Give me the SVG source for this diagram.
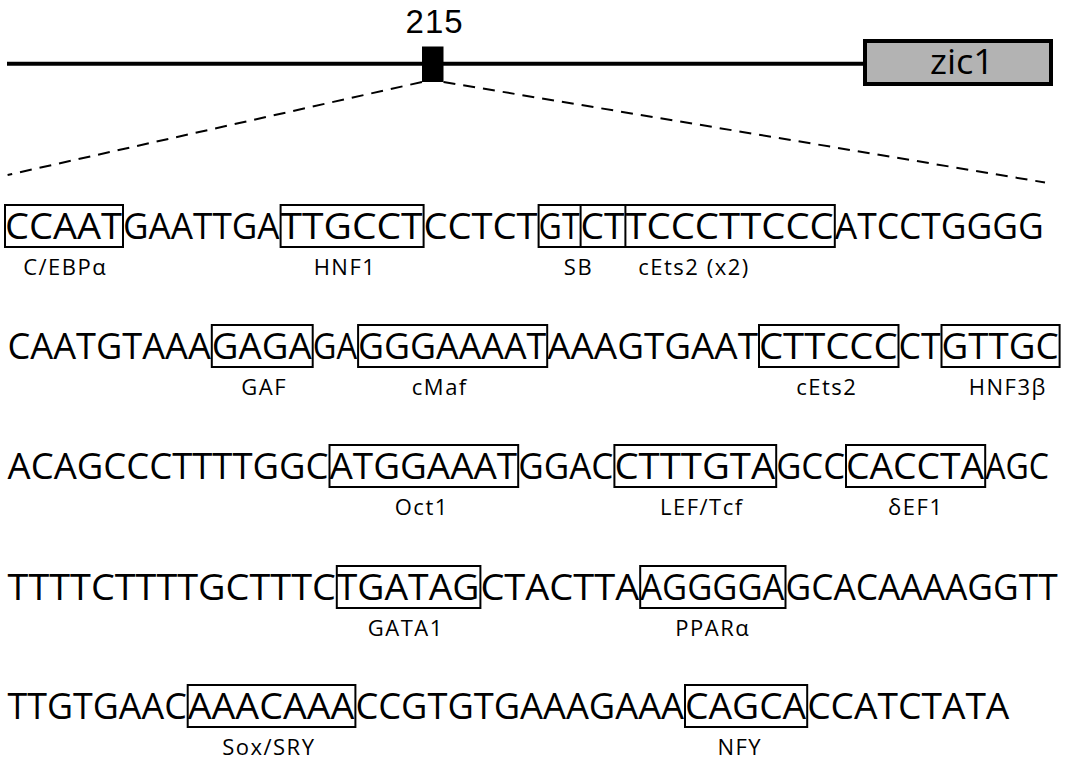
<svg xmlns="http://www.w3.org/2000/svg" width="1070" height="760" viewBox="0 0 1070 760">
<style>
.seq{font-family:"Open Sans","DejaVu Sans",sans-serif;font-size:36px;fill:#000}
.lab{font-family:"Open Sans","DejaVu Sans",sans-serif;font-size:22px;letter-spacing:1.5px;fill:#000;text-anchor:middle}
.box{fill:none;stroke:#000;stroke-width:2}
.num{font-family:"Open Sans","DejaVu Sans",sans-serif;font-size:34px;fill:#000}
.num215{font-family:"Liberation Sans","DejaVu Sans",sans-serif;font-size:33px;fill:#000}
</style>
<rect width="1070" height="760" fill="#fff"/>
<g id="gene-line"><line x1="7" y1="63.7" x2="864" y2="63.7" stroke="#000" stroke-width="4"/></g>
<g id="element-215">
<rect x="422" y="46.5" width="21.5" height="35.5" fill="#000"/>
<text class="num215" x="405.6" y="33.4" textLength="57" lengthAdjust="spacing">215</text>
</g>
<g id="zic1">
<rect x="865" y="41" width="186" height="43" fill="#b3b3b3" stroke="#000" stroke-width="4"/>
<text class="num" x="930" y="74" textLength="64" lengthAdjust="spacingAndGlyphs">zic1</text>
</g>
<g id="connectors" stroke="#000" stroke-width="2" stroke-dasharray="12 8" fill="none">
<line x1="422" y1="82" x2="7.6" y2="175"/>
<line x1="443.5" y1="82" x2="1045" y2="182.5"/>
</g>
<g id="row1">
<text class="seq" x="123" y="239" textLength="156.6" lengthAdjust="spacingAndGlyphs">GAATTGA</text>
<text class="seq" x="423.6" y="239" textLength="114" lengthAdjust="spacingAndGlyphs">CCTCT</text>
<text class="seq" x="834.8" y="239" textLength="209" lengthAdjust="spacingAndGlyphs">ATCCTGGGG</text>
<g id="site-CEBPa"><rect class="box" x="5" y="205" width="118" height="42"/><text class="seq" x="5" y="239" textLength="117" lengthAdjust="spacingAndGlyphs">CCAAT</text><text class="lab" x="65.2" y="275">C/EBPα</text></g>
<g id="site-HNF1"><rect class="box" x="280.6" y="205" width="143" height="42"/><text class="seq" x="280.6" y="239" textLength="142" lengthAdjust="spacingAndGlyphs">TTGCCT</text><text class="lab" x="345" y="275">HNF1</text></g>
<g id="site-SB"><rect class="box" x="538.6" y="205" width="86.8" height="42"/><text class="seq" x="538.6" y="239" textLength="41" lengthAdjust="spacingAndGlyphs">GT</text><text class="lab" x="578.5" y="275">SB</text></g>
<g id="site-cEts2x2"><rect class="box" x="580.6" y="205" width="254.2" height="42"/><text class="seq" x="580.6" y="239" textLength="43.8" lengthAdjust="spacingAndGlyphs">CT</text><text class="seq" x="625.4" y="239" textLength="208.4" lengthAdjust="spacingAndGlyphs">TCCCTTCCC</text><text class="lab" x="694" y="275">cEts2 (x2)</text></g>
</g>
<g id="row2">
<text class="seq" x="7.6" y="359" textLength="203.2" lengthAdjust="spacingAndGlyphs">CAATGTAAA</text>
<text class="seq" x="312.7" y="359" textLength="44.4" lengthAdjust="spacingAndGlyphs">GA</text>
<text class="seq" x="547.2" y="359" textLength="210.8" lengthAdjust="spacingAndGlyphs">AAAGTGAAT</text>
<text class="seq" x="898.5" y="359" textLength="42" lengthAdjust="spacingAndGlyphs">CT</text>
<g id="site-GAF"><rect class="box" x="211.8" y="325" width="100.9" height="42"/><text class="seq" x="211.8" y="359" textLength="99.9" lengthAdjust="spacingAndGlyphs">GAGA</text><text class="lab" x="264.2" y="395">GAF</text></g>
<g id="site-cMaf"><rect class="box" x="358.1" y="325" width="189.1" height="42"/><text class="seq" x="358.1" y="359" textLength="188.1" lengthAdjust="spacingAndGlyphs">GGGAAAAT</text><text class="lab" x="439.8" y="395">cMaf</text></g>
<g id="site-cEts2"><rect class="box" x="759" y="325" width="139.5" height="42"/><text class="seq" x="759" y="359" textLength="138.5" lengthAdjust="spacingAndGlyphs">CTTCCC</text><text class="lab" x="826.8" y="395">cEts2</text></g>
<g id="site-HNF3b"><rect class="box" x="941.5" y="325" width="118.1" height="42"/><text class="seq" x="941.5" y="359" textLength="117.1" lengthAdjust="spacingAndGlyphs">GTTGC</text><text class="lab" x="1007.8" y="395">HNF3β</text></g>
</g>
<g id="row3">
<text class="seq" x="7.6" y="479" textLength="320.9" lengthAdjust="spacingAndGlyphs">ACAGCCCTTTTGGC</text>
<text class="seq" x="518.2" y="479" textLength="95.2" lengthAdjust="spacingAndGlyphs">GGAC</text>
<text class="seq" x="776.2" y="479" textLength="68.8" lengthAdjust="spacingAndGlyphs">GCC</text>
<text class="seq" x="985.2" y="479" textLength="63.8" lengthAdjust="spacingAndGlyphs">AGC</text>
<g id="site-Oct1"><rect class="box" x="329.5" y="445" width="188.7" height="42"/><text class="seq" x="329.5" y="479" textLength="187.7" lengthAdjust="spacingAndGlyphs">ATGGAAAT</text><text class="lab" x="421.8" y="515">Oct1</text></g>
<g id="site-LEFTcf"><rect class="box" x="614.4" y="445" width="161.8" height="42"/><text class="seq" x="614.4" y="479" textLength="160.8" lengthAdjust="spacingAndGlyphs">CTTTGTA</text><text class="lab" x="701.8" y="515">LEF/Tcf</text></g>
<g id="site-dEF1"><rect class="box" x="846" y="445" width="139.2" height="42"/><text class="seq" x="846" y="479" textLength="138.2" lengthAdjust="spacingAndGlyphs">CACCTA</text><text class="lab" x="915.8" y="515">δEF1</text></g>
</g>
<g id="row4">
<text class="seq" x="7.6" y="600" textLength="328.2" lengthAdjust="spacingAndGlyphs">TTTTCTTTTGCTTTC</text>
<text class="seq" x="480.4" y="600" textLength="158.8" lengthAdjust="spacingAndGlyphs">CTACTTA</text>
<text class="seq" x="785.5" y="600" textLength="272.1" lengthAdjust="spacingAndGlyphs">GCACAAAAGGTT</text>
<g id="site-GATA1"><rect class="box" x="336.8" y="566" width="143.6" height="42"/><text class="seq" x="336.8" y="600" textLength="142.6" lengthAdjust="spacingAndGlyphs">TGATAG</text><text class="lab" x="405.8" y="636">GATA1</text></g>
<g id="site-PPARa"><rect class="box" x="640.2" y="566" width="145.3" height="42"/><text class="seq" x="640.2" y="600" textLength="144.3" lengthAdjust="spacingAndGlyphs">AGGGGA</text><text class="lab" x="712.8" y="636">PPARα</text></g>
</g>
<g id="row5">
<text class="seq" x="7.6" y="719" textLength="179.1" lengthAdjust="spacingAndGlyphs">TTGTGAAC</text>
<text class="seq" x="355.4" y="719" textLength="328.6" lengthAdjust="spacingAndGlyphs">CCGTGTGAAAGAAA</text>
<text class="seq" x="807.2" y="719" textLength="202.2" lengthAdjust="spacingAndGlyphs">CCATCTATA</text>
<g id="site-SoxSRY"><rect class="box" x="187.7" y="685" width="167.7" height="42"/><text class="seq" x="187.7" y="719" textLength="166.7" lengthAdjust="spacingAndGlyphs">AAACAAA</text><text class="lab" x="268.8" y="755">Sox/SRY</text></g>
<g id="site-NFY"><rect class="box" x="685" y="685" width="122.2" height="42"/><text class="seq" x="685" y="719" textLength="121.2" lengthAdjust="spacingAndGlyphs">CAGCA</text><text class="lab" x="739.8" y="755">NFY</text></g>
</g>
</svg>
